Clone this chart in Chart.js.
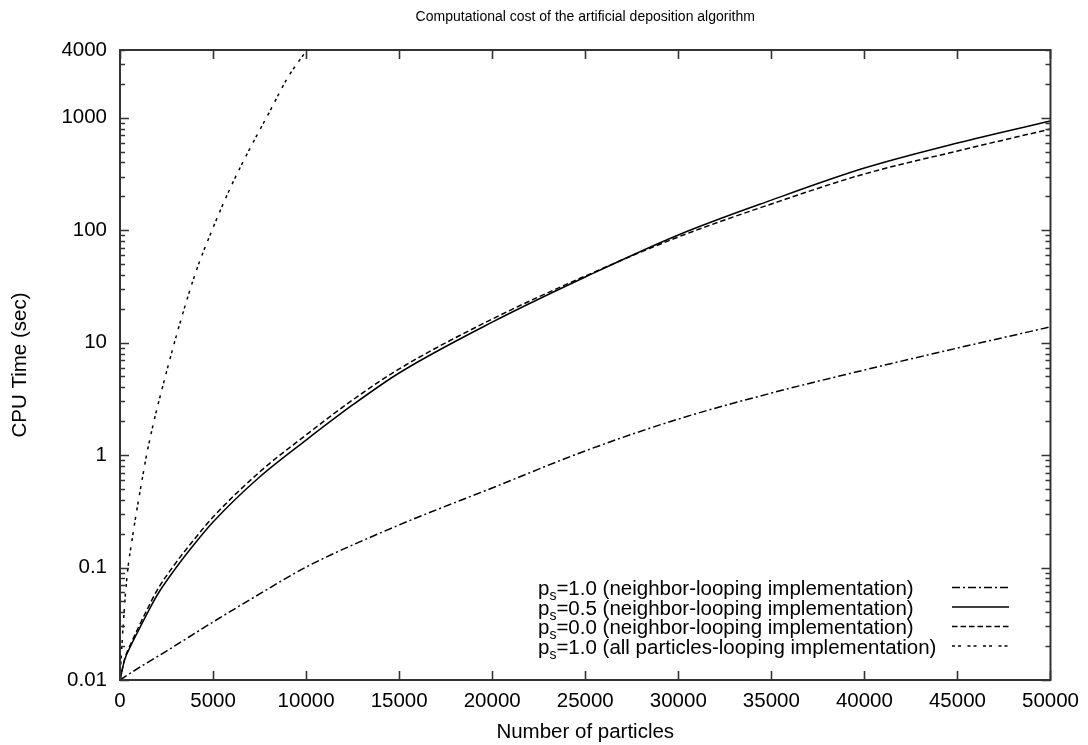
<!DOCTYPE html>
<html>
<head>
<meta charset="utf-8">
<title>Computational cost of the artificial deposition algorithm</title>
<script src="https://cdn.jsdelivr.net/npm/chart.js@4.4.1/dist/chart.umd.min.js"></script>
<style>
  html, body { margin: 0; padding: 0; background: #ffffff; }
  #wrap { width: 1088px; height: 745px; }
</style>
</head>
<body>
<div id="wrap"><canvas id="cost" width="1088" height="745"></canvas></div>
<script>
// Number of particles vs. CPU time (sec), one pair of arrays per run
const nNeighborPs10 = [0, 1000, 2500, 5000, 7500, 10000, 15000, 20000, 25000, 30000, 35000, 40000, 45000, 50000];
const tNeighborPs10 = [0.01, 0.0128, 0.0181, 0.0328, 0.0582, 0.101, 0.239, 0.51, 1.09, 2.09, 3.56, 5.71, 8.95, 13.8];

const nNeighborPs05 = [0, 250, 600, 1000, 1500, 2000, 3000, 4000, 5000, 7500, 10000, 12500, 15000, 20000, 25000, 30000, 35000, 40000, 45000, 50000];
const tNeighborPs05 = [0.01, 0.0151, 0.0205, 0.0278, 0.0402, 0.0570, 0.0991, 0.162, 0.254, 0.638, 1.36, 2.79, 5.37, 15.2, 38.3, 90.6, 185, 357, 596, 935];

const nNeighborPs00 = [0, 250, 600, 1000, 1500, 2000, 3000, 4000, 5000, 7500, 10000, 12500, 15000, 20000, 25000, 30000, 35000, 40000, 45000, 50000];
const tNeighborPs00 = [0.01, 0.0154, 0.0213, 0.0296, 0.0437, 0.0631, 0.110, 0.179, 0.281, 0.707, 1.51, 3.09, 5.83, 16.2, 39.1, 87.0, 171, 316, 506, 793];

const nAllPs10 = [0, 100, 350, 700, 1250, 1500, 2500, 4000, 5000, 6000, 7000, 8000, 9000, 10000, 10500];
const tAllPs10 = [0.01, 0.02, 0.075, 0.2, 0.69, 1.15, 5.5, 39, 105, 252, 540, 1100, 2250, 3900, 5000];

// Legend text: "p" with subscript "s", then the rest of the label
const seriesSubscriptBase = 'p';
const seriesSubscript = 's';
const seriesLabels = [
  '=1.0 (neighbor-looping implementation)',
  '=0.5 (neighbor-looping implementation)',
  '=0.0 (neighbor-looping implementation)',
  '=1.0 (all particles-looping implementation)'
];

const xTickValues = [0, 5000, 10000, 15000, 20000, 25000, 30000, 35000, 40000, 45000, 50000];
const yTickValues = [0.01, 0.1, 1, 10, 100, 1000, 4000];

const chartTitle = 'Computational cost of the artificial deposition algorithm';
const xTitle = 'Number of particles';
const yTitle = 'CPU Time (sec)';

const FONT = "'Liberation Sans', Arial, Helvetica, sans-serif";
const TEXT_SIZE = 20.5;

function points(xs, ys) { return xs.map((x, i) => ({ x: x, y: ys[i] })); }

const lineStyle = { borderColor: '#000000', borderWidth: 1.5, pointRadius: 0, fill: false, cubicInterpolationMode: 'monotone' };

const datasets = [
  Object.assign({ label: seriesLabels[0], data: points(nNeighborPs10, tNeighborPs10), borderDash: [8, 3, 2, 3] }, lineStyle),
  Object.assign({ label: seriesLabels[1], data: points(nNeighborPs05, tNeighborPs05), borderDash: [] }, lineStyle),
  Object.assign({ label: seriesLabels[2], data: points(nNeighborPs00, tNeighborPs00), borderDash: [5.5, 3] }, lineStyle),
  Object.assign({ label: seriesLabels[3], data: points(nAllPs10, tAllPs10), borderDash: [3, 3, 3, 6.5] }, lineStyle)
];

// Frame with inward ticks on all four sides (major + log minor ticks)
const framePlugin = {
  id: 'frameTicks',
  afterDatasetsDraw(chart) {
    const { ctx, chartArea: a, scales } = chart;
    const xs = scales.x, ys = scales.y;
    ctx.save();
    ctx.strokeStyle = '#333333';
    ctx.lineWidth = 1.6;
    ctx.setLineDash([]);
    ctx.beginPath();
    // x majors, bottom and top
    xTickValues.forEach(v => {
      const px = Math.round(xs.getPixelForValue(v)) + 0.5;
      ctx.moveTo(px, a.bottom); ctx.lineTo(px, a.bottom - 9);
      ctx.moveTo(px, a.top); ctx.lineTo(px, a.top + 9);
    });
    // y majors and minors, left and right
    const yMin = ys.min, yMax = ys.max;
    for (let d = -2; d <= 3; d++) {
      for (let k = 1; k <= 9; k++) {
        const v = k * Math.pow(10, d);
        if (v < yMin * 0.999 || v > yMax * 1.001) continue;
        const len = k === 1 ? 9 : 5;
        const py = Math.round(ys.getPixelForValue(v)) + 0.5;
        ctx.moveTo(a.left, py); ctx.lineTo(a.left + len, py);
        ctx.moveTo(a.right, py); ctx.lineTo(a.right - len, py);
      }
    }
    ctx.stroke();
    ctx.lineWidth = 2;
    ctx.strokeRect(a.left, a.top, a.right - a.left, a.bottom - a.top);
    ctx.restore();
  }
};

// Legend in the lower right corner: label on the left, line sample on the right
const legendPlugin = {
  id: 'sampleLegend',
  afterDatasetsDraw(chart) {
    const { ctx } = chart;
    const textX = 538;
    const sampleX0 = 952, sampleX1 = 1009;
    const baseY = 595, rowH = 19.5;
    ctx.save();
    chart.data.datasets.forEach((ds, i) => {
      const y = baseY + i * rowH;
      ctx.fillStyle = '#000000';
      ctx.textBaseline = 'alphabetic';
      ctx.textAlign = 'left';
      ctx.font = TEXT_SIZE + 'px ' + FONT;
      ctx.fillText(seriesSubscriptBase, textX, y);
      let x = textX + ctx.measureText(seriesSubscriptBase).width;
      ctx.font = '14px ' + FONT;
      ctx.fillText(seriesSubscript, x, y + 5);
      x += ctx.measureText(seriesSubscript).width;
      ctx.font = TEXT_SIZE + 'px ' + FONT;
      ctx.fillText(ds.label, x, y);
      ctx.strokeStyle = ds.borderColor;
      ctx.lineWidth = ds.borderWidth;
      ctx.setLineDash(ds.borderDash || []);
      ctx.beginPath();
      ctx.moveTo(sampleX0, y - 7.5);
      ctx.lineTo(sampleX1, y - 7.5);
      ctx.stroke();
    });
    ctx.restore();
  }
};

new Chart(document.getElementById('cost'), {
  type: 'line',
  data: { datasets: datasets },
  options: {
    responsive: false,
    animation: false,
    devicePixelRatio: 1,
    layout: { padding: { left: 0, right: 37, top: 0, bottom: 0 } },
    plugins: {
      legend: { display: false },
      tooltip: { enabled: false },
      title: {
        display: true,
        fullSize: false,
        text: chartTitle,
        color: '#000000',
        font: { family: FONT, size: 14, weight: 'normal' },
        padding: { top: 8.5, bottom: 24.7 }
      }
    },
    scales: {
      x: {
        type: 'linear',
        min: 0,
        max: 50000,
        afterBuildTicks(scale) { scale.ticks = xTickValues.map(v => ({ value: v })); },
        afterFit(scale) { scale.height = 65; },
        grid: { display: false, drawTicks: false },
        border: { display: false },
        ticks: {
          color: '#000000',
          font: { family: FONT, size: TEXT_SIZE },
          padding: 9,
          maxRotation: 0,
          autoSkip: false,
          callback: v => String(v)
        },
        title: {
          display: true,
          text: xTitle,
          color: '#000000',
          font: { family: FONT, size: TEXT_SIZE },
          padding: { top: 0, bottom: 0 }
        }
      },
      y: {
        type: 'logarithmic',
        min: 0.01,
        max: 4000,
        afterBuildTicks(scale) { scale.ticks = yTickValues.map(v => ({ value: v })); },
        afterFit(scale) { scale.width = 120; },
        grid: { display: false, drawTicks: false },
        border: { display: false },
        ticks: {
          color: '#000000',
          font: { family: FONT, size: TEXT_SIZE },
          padding: 13,
          autoSkip: false,
          callback: v => String(v)
        },
        title: {
          display: true,
          text: yTitle,
          color: '#000000',
          font: { family: FONT, size: TEXT_SIZE },
          padding: { top: 8, bottom: 0 }
        }
      }
    }
  },
  plugins: [framePlugin, legendPlugin]
});
</script>
</body>
</html>
